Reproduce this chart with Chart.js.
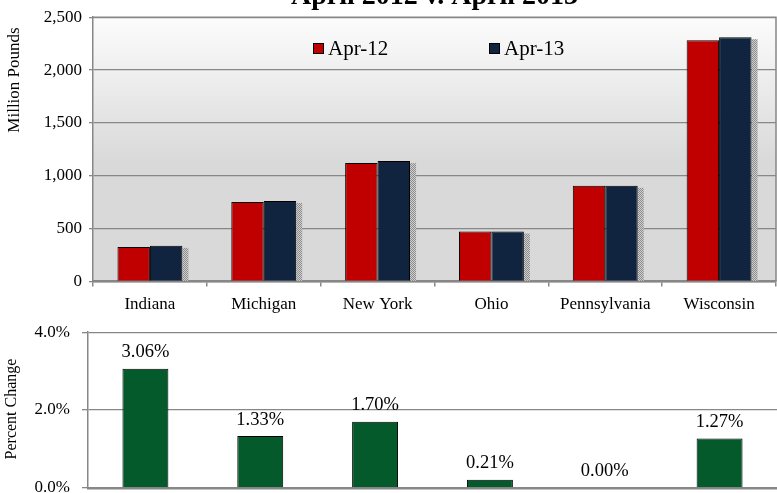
<!DOCTYPE html>
<html>
<head>
<meta charset="utf-8">
<script src="https://cdn.jsdelivr.net/npm/chart.js@4.4.1/dist/chart.umd.min.js"></script>
<style>
html, body { margin: 0; padding: 0; background: #fff; overflow: hidden; width: 777px; height: 493px; }
#top { position: absolute; left: 0; top: 0; width: 777px; height: 320px; }
#bottom { position: absolute; left: 0; top: 310px; width: 777px; height: 200px; }
</style>
</head>
<body>
<div id="top"><canvas id="volChart"></canvas></div>
<div id="bottom"><canvas id="pctChart"></canvas></div>
<script>
// milk production, million pounds
const states = ["Indiana", "Michigan", "New York", "Ohio", "Pennsylvania", "Wisconsin"];
const apr12 = [327, 752, 1120, 472, 905, 2282];
const apr13 = [337, 762, 1139, 473, 905, 2311];
const pctChange = [3.06, 1.33, 1.70, 0.21, 0.00, 1.27];
const seriesNames = ["Apr-12", "Apr-13"];
const chartTitle = "April 2012 v. April 2013";

const serif = "'Liberation Serif', 'Times New Roman', serif";
const gridGray = "#878787";

Chart.defaults.font.family = serif;
Chart.defaults.color = "#000";

// dotted grey fill for the bar shadow
function dotPattern(ctx) {
    const p = document.createElement("canvas");
    p.width = 2; p.height = 2;
    const pc = p.getContext("2d");
    pc.fillStyle = "#d0d0d0";
    pc.fillRect(0, 0, 2, 2);
    pc.fillStyle = "#8c8c8c";
    pc.fillRect(0, 0, 1, 1);
    pc.fillRect(1, 1, 1, 1);
    return ctx.createPattern(p, "repeat");
}

// extra drawing: plot background, shadows, borders, titles, legend
const decor = {
    id: "decor",
    beforeDraw(chart, args, opts) {
        const a = chart.chartArea, c = chart.ctx;
        if (opts.gradient) {
            const g = c.createLinearGradient(0, a.top, 0, a.bottom);
            g.addColorStop(0, "#fcfcfc");
            g.addColorStop(0.55, "#d9d9d9");
            g.addColorStop(1, "#d9d9d9");
            c.save();
            c.fillStyle = g;
            c.fillRect(a.left, a.top, a.right - a.left, a.bottom - a.top);
            c.restore();
        }
    },
    beforeDatasetsDraw(chart, args, opts) {
        if (!opts.shadow) return;
        const c = chart.ctx;
        const meta = chart.getDatasetMeta(chart.data.datasets.length - 1);
        c.save();
        c.fillStyle = dotPattern(c);
        meta.data.forEach(bar => {
            const right = bar.x + bar.width / 2;
            c.fillRect(right, bar.y + 2, 6, bar.base - bar.y - 2);
        });
        c.restore();
    },
    afterDraw(chart, args, opts) {
        const a = chart.chartArea, c = chart.ctx;
        c.save();
        if (opts.frame) {
            c.strokeStyle = gridGray;
            c.lineWidth = 1.5;
            c.beginPath();
            c.moveTo(a.left, a.top);
            c.lineTo(a.right, a.top);
            c.lineTo(a.right, a.bottom);
            c.stroke();
        }
        if (opts.title) {
            c.fillStyle = "#000";
            c.font = "bold 28px " + serif;
            c.textAlign = "center";
            c.textBaseline = "alphabetic";
            c.fillText(opts.title, (a.left + a.right) / 2, 4);
        }
        if (opts.yTitle) {
            c.fillStyle = "#000";
            c.font = opts.yTitle.size + "px " + serif;
            c.translate(opts.yTitle.x, opts.yTitle.y);
            c.rotate(-Math.PI / 2);
            c.textAlign = "center";
            c.textBaseline = "middle";
            c.fillText(opts.yTitle.text, 0, 0);
            c.setTransform(1, 0, 0, 1, 0, 0);
        }
        if (opts.legendAt) {
            c.font = "21px " + serif;
            c.textAlign = "left";
            c.textBaseline = "middle";
            chart.data.datasets.forEach((ds, i) => {
                const [x, y] = opts.legendAt[i];
                c.fillStyle = ds.backgroundColor;
                c.fillRect(x, y - 5.5, 11, 11);
                c.strokeStyle = "#000";
                c.lineWidth = 1;
                c.strokeRect(x + 0.5, y - 5, 10, 10);
                c.fillStyle = "#000";
                c.fillText(ds.label, x + 15, y + 1);
            });
        }
        c.restore();
    },
    afterDatasetsDraw(chart, args, opts) {
        if (!opts.valueLabels) return;
        const c = chart.ctx;
        const ds = chart.data.datasets[0];
        c.save();
        c.font = "18.5px " + serif;
        c.fillStyle = "#000";
        c.textAlign = "center";
        c.textBaseline = "bottom";
        chart.getDatasetMeta(0).data.forEach((bar, i) => {
            c.fillText(ds.data[i].toFixed(2) + "%", bar.x, bar.y - 7);
        });
        c.restore();
    }
};

new Chart(document.getElementById("volChart"), {
    type: "bar",
    data: {
        labels: states,
        datasets: [
            { label: seriesNames[0], data: apr12, backgroundColor: "#c00000", borderColor: "#000", borderWidth: 1 },
            { label: seriesNames[1], data: apr13, backgroundColor: "#10243f", borderColor: "#000", borderWidth: 1 }
        ]
    },
    options: {
        responsive: true,
        maintainAspectRatio: false,
        animation: false,
        layout: { padding: { top: 15, right: 1, bottom: 0, left: 0 } },
        datasets: { bar: { categoryPercentage: 0.57, barPercentage: 1.0 } },
        scales: {
            x: {
                afterFit: s => { s.height = 38.5; },
                grid: { display: true, drawOnChartArea: false, offset: true, tickLength: 5, color: gridGray, lineWidth: 1.5 },
                border: { color: gridGray, width: 2.5 },
                ticks: { font: { size: 17 }, padding: 8, color: "#000" }
            },
            y: {
                min: 0,
                max: 2500,
                afterFit: s => { s.width = 93; },
                grid: { color: gridGray, lineWidth: 1.3, tickLength: 4 },
                border: { color: gridGray, width: 1.5 },
                ticks: {
                    stepSize: 500,
                    padding: 7,
                    font: { size: 17 },
                    color: "#000",
                    callback: v => v.toLocaleString("en-US")
                }
            }
        },
        plugins: {
            legend: { display: false },
            tooltip: { enabled: false },
            decor: {
                gradient: true,
                shadow: true,
                frame: true,
                title: chartTitle,
                yTitle: { text: "Million Pounds", x: 15, y: 80, size: 17 },
                legendAt: [[313, 48.5], [489, 48.5]]
            }
        }
    },
    plugins: [decor]
});

new Chart(document.getElementById("pctChart"), {
    type: "bar",
    data: {
        labels: states,
        datasets: [
            { label: "Percent Change", data: pctChange, backgroundColor: "#045a2a", borderColor: "#000", borderWidth: 1 }
        ]
    },
    options: {
        responsive: true,
        maintainAspectRatio: false,
        animation: false,
        layout: { padding: { top: 17.7, right: 0, bottom: 19.7, left: 0 } },
        datasets: { bar: { categoryPercentage: 0.4, barPercentage: 1.0 } },
        scales: {
            x: {
                afterFit: s => { s.height = 0; },
                grid: { display: false },
                border: { color: gridGray, width: 2.5 },
                ticks: { display: false }
            },
            y: {
                min: 0,
                max: 4,
                afterFit: s => { s.width = 88; },
                grid: { color: gridGray, lineWidth: 1.3, tickLength: 6 },
                border: { color: gridGray, width: 1.5 },
                ticks: {
                    stepSize: 2,
                    padding: 12,
                    font: { size: 17 },
                    color: "#000",
                    callback: v => v.toFixed(1) + "%"
                }
            }
        },
        plugins: {
            legend: { display: false },
            tooltip: { enabled: false },
            decor: {
                valueLabels: true,
                yTitle: { text: "Percent Change", x: 12, y: 99, size: 16 }
            }
        }
    },
    plugins: [decor]
});
</script>
</body>
</html>
